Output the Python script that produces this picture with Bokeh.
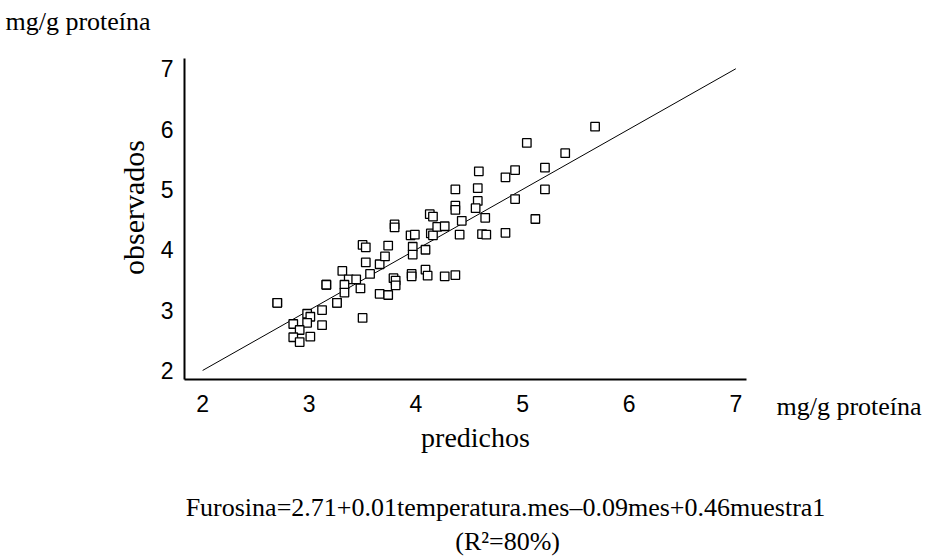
import math
from bokeh.plotting import figure
from bokeh.models import ColumnDataSource, Label, FixedTicker, Range1d
from bokeh.embed import file_html
from bokeh.resources import INLINE

# ---- data ----
predichos = [2.70, 2.70, 3.16, 3.16, 3.26, 3.26, 3.31, 3.37, 3.44, 3.33, 3.33, 3.48,
             3.50, 3.53, 3.74, 3.53, 3.66, 3.71, 3.57, 3.66, 3.74, 3.79, 3.81, 3.81,
             3.96, 3.96, 3.97, 3.97, 3.95, 3.99, 3.80, 3.80, 3.50, 3.12, 3.12, 3.01,
             2.98, 3.01, 2.98, 2.85, 2.91, 2.85, 2.91, 4.09, 4.09, 4.11, 4.14, 4.16,
             4.13, 4.16, 4.20, 4.27, 4.41, 4.27, 4.37, 4.37, 4.37, 4.37, 4.43, 4.58,
             4.58, 4.56, 4.59, 4.65, 4.62, 4.66, 4.84, 4.93, 4.93, 4.84, 5.12, 5.21,
             5.21, 5.04, 5.40, 5.68]
observados = [3.12, 3.12, 3.42, 3.42, 3.12, 3.12, 3.65, 3.51, 3.51, 3.42, 3.29, 3.36,
              4.08, 4.04, 4.07, 3.79, 3.76, 3.89, 3.60, 3.27, 3.25, 3.53, 3.49, 3.41,
              3.60, 3.56, 4.05, 3.92, 4.24, 4.25, 4.42, 4.37, 2.87, 3.00, 2.75, 2.56,
              2.94, 2.89, 2.79, 2.77, 2.67, 2.55, 2.47, 4.00, 3.67, 3.57, 4.27, 4.24,
              4.59, 4.55, 4.38, 4.39, 4.25, 3.56, 3.58, 5.00, 4.73, 4.66, 4.48, 5.02,
              4.81, 4.69, 5.30, 4.53, 4.26, 4.25, 5.20, 5.32, 4.84, 4.28, 4.51, 5.36,
              5.00, 5.77, 5.60, 6.04]
ref_line_x = [2, 7]
ref_line_y = [2, 7]
tick_values = [2, 3, 4, 5, 6, 7]

x_title = "predichos"
y_title = "observados"
unit_text = "mg/g proteína"
formula_text = "Furosina=2.71+0.01temperatura.mes\u20130.09mes+0.46muestra1"
r2_text = "(R\u00b2=80%)"

SERIF = "Liberation Serif"
SANS = "Liberation Sans"

# The frame covers the whole canvas so that the outer texts are not clipped;
# the two axes are drawn at fixed data locations with limited bounds.
X0, X1 = 1.83, 7.10      # visible extent of the x axis line
Y0, Y1 = 1.85, 7.17      # visible extent of the y axis line

p = figure(width=933, height=560,
           min_border_left=0, min_border_right=0,
           min_border_top=0, min_border_bottom=0,
           x_range=Range1d(0.1046, 8.8536), y_range=Range1d(-1.1497, 8.131),
           output_backend="svg", toolbar_location=None,
           background_fill_color="white", border_fill_color="white")
p.outline_line_color = None
p.grid.visible = False

p.xaxis.fixed_location = Y0
p.yaxis.fixed_location = X0
p.xaxis.bounds = (X0, X1)
p.yaxis.bounds = (Y0, Y1)

for ax in (p.xaxis[0], p.yaxis[0]):
    ax.ticker = FixedTicker(ticks=tick_values)
    ax.major_tick_line_color = None
    ax.minor_tick_line_color = None
    ax.major_tick_in = 0
    ax.major_tick_out = 0
    ax.minor_tick_in = 0
    ax.minor_tick_out = 0
    ax.axis_line_color = "black"
    ax.axis_line_width = 2
    ax.major_label_text_font = SANS
    ax.major_label_text_font_size = "23px"
    ax.major_label_text_color = "black"
p.xaxis.major_label_standoff = 16
p.yaxis.major_label_standoff = 11
p.yaxis.major_label_orientation = "horizontal"

p.line(ref_line_x, ref_line_y, line_color="black", line_width=1)

src = ColumnDataSource(dict(x=predichos, y=observados))
p.scatter("x", "y", source=src, marker="square", size=8.5,
          fill_color="white", line_color="black", line_width=1.3)

def lab(text, x, y, size, align="left", angle=0.0):
    p.add_layout(Label(x=x, y=y, text=text,
                       text_font=SERIF, text_font_size=size,
                       text_color="black", text_align=align,
                       text_baseline="middle", angle=angle))

# annotation positions expressed in the chart's data coordinates
lab(unit_text, 0.151, 7.783, "26px")
lab(unit_text, 7.381, 1.402, "26px")
lab(x_title, 4.559, 0.889, "28px", align="center")
lab(y_title, 1.352, 4.700, "30px", align="center", angle=math.pi / 2)
lab(formula_text, 4.840, -0.271, "26px", align="center")
lab(r2_text, 4.860, -0.835, "26px", align="center")

open("out.html", "w").write(file_html(p, INLINE))
